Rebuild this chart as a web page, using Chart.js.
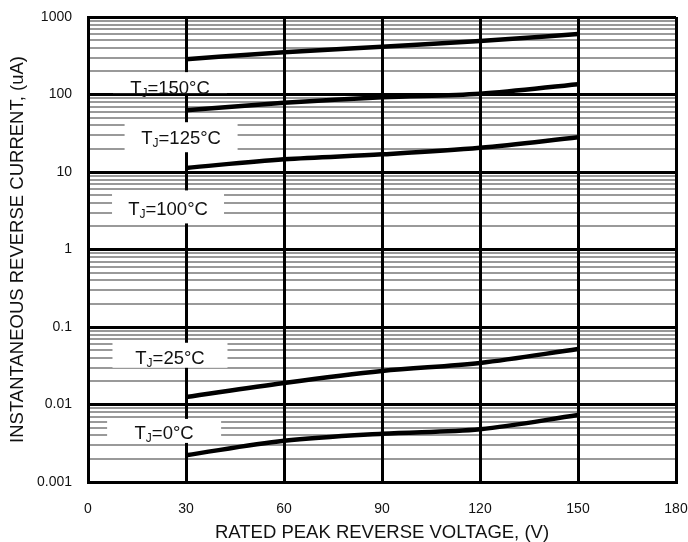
<!DOCTYPE html>
<html>
<head>
<meta charset="utf-8">
<script src="https://cdn.jsdelivr.net/npm/chart.js@4.4.1/dist/chart.umd.min.js"></script>
<style>
  body { margin: 0; background: #fff; }
  #wrap { width: 688px; height: 542px; position: relative; }
</style>
</head>
<body>
<div id="wrap"><canvas id="chart"></canvas></div>
<script>
// reverse voltage (V) where the curves are sampled
const voltages = [30, 60, 90, 120, 150];

// reverse current (uA) per junction temperature
const tj150 = [286, 352, 414, 490, 603];
const tj125 = [62.6, 78, 92, 102, 136];
const tj100 = [11.3, 14.6, 16.9, 20.5, 28];
const tj25 = [0.0125, 0.019, 0.0271, 0.0344, 0.052];
const tj0 = [0.00222, 0.0034, 0.0042, 0.0048, 0.0073];

const seriesNames = ['150', '125', '100', '25', '0'];
const seriesValues = [tj150, tj125, tj100, tj25, tj0];

// axis ticks
const xTicks = [0, 30, 60, 90, 120, 150, 180];
const yDecades = [0.001, 0.01, 0.1, 1, 10, 100, 1000];
const yTickLabels = ['0.001', '0.01', '0.1', '1', '10', '100', '1000'];

// where the temperature labels sit (data coords) and their white boxes (px)
const labelSpots = [
  { x: 25.1, y: 124.5, w: 114, h: 21, dy: -4.5 },
  { x: 28.5, y: 28.1, w: 113, h: 30, dy: 0 },
  { x: 24.5, y: 3.39, w: 112, h: 33, dy: -1.5 },
  { x: 25.1, y: 0.0407, w: 115, h: 25, dy: -2 },
  { x: 23.3, y: 0.0043, w: 114, h: 24, dy: -2 },
];

const yGridValues = [];
yDecades.forEach((d, i) => {
  if (i === yDecades.length - 1) {
    yGridValues.push(d);
    return;
  }
  for (let m = 1; m <= 9; m++) yGridValues.push(m * d);
});

const FONT = "'Liberation Sans', Arial, sans-serif";
Chart.defaults.font.family = FONT;
Chart.defaults.color = '#111';

const datasets = seriesValues.map((vals, i) => ({
  label: 'TJ=' + seriesNames[i] + '°C',
  data: voltages.map((v, j) => ({ x: v, y: vals[j] })),
  borderColor: '#000',
  borderWidth: 4.5,
  pointRadius: 0,
  fill: false,
  cubicInterpolationMode: 'monotone',
}));

const tempLabels = {
  id: 'tempLabels',
  beforeDatasetsDraw(chart) {
    const { ctx, scales } = chart;
    ctx.save();
    seriesNames.forEach((name, i) => {
      const s = labelSpots[i];
      const px = scales.x.getPixelForValue(s.x);
      const py = scales.y.getPixelForValue(s.y);
      ctx.fillStyle = '#fff';
      ctx.fillRect(px - s.w / 2, py + s.dy - s.h / 2, s.w, s.h);

      const big = '18.5px ' + FONT;
      const small = '12px ' + FONT;
      const rest = '=' + name + '°C';
      ctx.font = big;
      const wT = ctx.measureText('T').width;
      const wRest = ctx.measureText(rest).width;
      ctx.font = small;
      const wJ = ctx.measureText('J').width;
      let x = px - (wT + wJ + wRest) / 2;
      const base = py + 6.5;
      ctx.fillStyle = '#111';
      ctx.textBaseline = 'alphabetic';
      ctx.textAlign = 'left';
      ctx.font = big;
      ctx.fillText('T', x, base);
      x += wT;
      ctx.font = small;
      ctx.fillText('J', x, base + 3);
      x += wJ;
      ctx.font = big;
      ctx.fillText(rest, x, base);
    });
    ctx.restore();
  },
};

new Chart(document.getElementById('chart'), {
  type: 'line',
  data: { datasets },
  plugins: [tempLabels],
  options: {
    responsive: true,
    maintainAspectRatio: false,
    animation: false,
    layout: { padding: { left: 0, top: 17, right: 12, bottom: 0 } },
    plugins: {
      legend: { display: false },
      tooltip: { enabled: false },
    },
    scales: {
      x: {
        type: 'linear',
        min: 0,
        max: 180,
        afterBuildTicks: (scale) => {
          scale.ticks = xTicks.map((v) => ({ value: v }));
        },
        afterFit: (scale) => {
          scale.height = 60;
          scale.paddingLeft = 0;
          scale.paddingRight = 0;
        },
        ticks: { font: { size: 14 }, padding: 19, maxRotation: 0, autoSkip: false },
        // vertical grid goes over the grey minor lines
        grid: { color: '#000', lineWidth: 3, drawTicks: false, z: -1 },
        border: { color: '#000', width: 3 },
        title: {
          display: true,
          text: 'RATED PEAK REVERSE VOLTAGE, (V)',
          font: { size: 18.5, lineHeight: 1 },
          padding: { top: 0, bottom: 0 },
        },
      },
      y: {
        type: 'logarithmic',
        min: 0.001,
        max: 1000,
        afterBuildTicks: (scale) => {
          scale.ticks = yGridValues.map((v) => ({ value: v }));
        },
        afterFit: (scale) => {
          scale.width = 88;
          scale.paddingTop = 0;
          scale.paddingBottom = 0;
        },
        ticks: {
          font: { size: 14 },
          padding: 16,
          autoSkip: false,
          callback: (value) => {
            const i = yDecades.indexOf(value);
            return i >= 0 ? yTickLabels[i] : '';
          },
        },
        grid: {
          drawTicks: false,
          z: -2,
          color: (c) => (yDecades.includes(c.tick.value) ? '#000' : '#999'),
          lineWidth: (c) => (yDecades.includes(c.tick.value) ? 3 : 2),
        },
        border: { color: '#000', width: 3 },
        title: {
          display: true,
          text: 'INSTANTANEOUS REVERSE CURRENT, (uA)',
          font: { size: 18.5, lineHeight: 1 },
          padding: { top: 9, bottom: 0 },
        },
      },
    },
  },
});
</script>
</body>
</html>
